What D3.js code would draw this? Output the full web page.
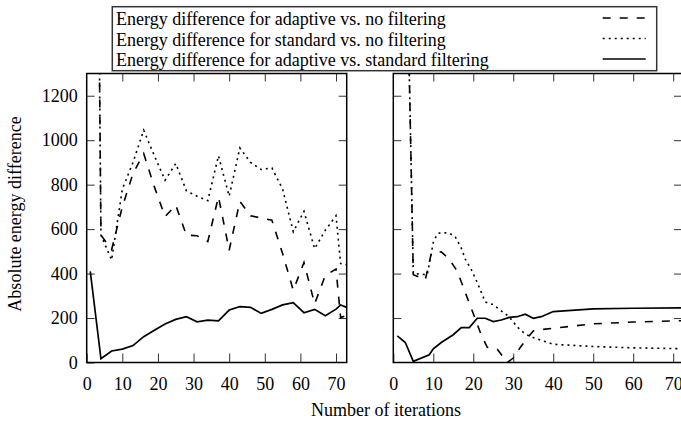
<!DOCTYPE html>
<html>
<head>
<meta charset="utf-8">
<script src="https://cdn.jsdelivr.net/npm/d3@7"></script>
<style>
  body { margin: 0; background: #fff; }
  svg { display: block; font-family: "Liberation Serif", "Times New Roman", serif; }
</style>
</head>
<body>
<div id="chart"></div>
<script>
/* Energy difference vs. number of iterations, two panels */

const width = 681, height = 425;

// legend labels
const seriesNames = [
    "Energy difference for adaptive vs. no filtering",
    "Energy difference for standard vs. no filtering",
    "Energy difference for adaptive vs. standard filtering"
];

const xTicks = [0, 10, 20, 30, 40, 50, 60, 70];
const yTicks = [0, 200, 400, 600, 800, 1000, 1200];

// left panel (same iterations for all three series)
const leftIter      = [1, 4, 7, 10, 13, 16, 19, 22, 25, 28, 31, 34, 37, 40, 43, 46, 49, 52, 55, 58, 61, 64, 67, 70, 71.3, 73];
const leftAdaptNo  = [6000, 573, 508, 700, 850, 940, 790, 656, 708, 573, 570, 544, 746, 505, 725, 660, 650, 640, 490, 325, 450, 264, 392, 420, 202, 212];
const leftStdNo    = [6000, 573, 461, 780, 900, 1045, 930, 820, 895, 772, 748, 728, 930, 748, 965, 900, 868, 875, 780, 588, 680, 512, 595, 660, 445, 440];
const leftAdaptStd = [410, 17, 52, 60, 76, 116, 145, 173, 194, 206, 183, 191, 187, 236, 251, 248, 221, 239, 259, 269, 224, 239, 210, 240, 259, 248];

// right panel
const rightAdaptNoIter  = [1, 5, 8, 9.5, 12, 14, 16, 18, 20, 22, 23.5, 26, 28.5, 30, 32, 35, 37, 40, 50, 60, 72];
const rightAdaptNo      = [4000, 395, 372, 490, 498, 465, 410, 315, 220, 124, 68, 60, 0, 20, 74, 142, 148, 154, 174, 182, 188];
const rightStdNoIter    = [1, 5, 8.5, 10, 11, 12, 14, 15.5, 17, 18, 19.5, 21, 23, 25, 27, 29, 31, 33, 35, 37, 40, 50, 60, 72];
const rightStdNo        = [4000, 400, 395, 540, 578, 585, 582, 565, 515, 465, 418, 360, 272, 260, 232, 205, 160, 128, 112, 100, 82, 72, 66, 62];
const rightAdaptStdIter = [1, 3, 5, 9, 10, 12, 15, 17, 19, 21, 23, 25, 27, 29, 31, 33, 35, 37, 40, 50, 60, 72];
const rightAdaptStd     = [120, 90, 5, 35, 62, 90, 125, 157, 157, 199, 199, 184, 191, 203, 206, 217, 199, 206, 229, 241, 244, 246];

const styles = [
    { dash: "8,9", width: 1.6 },     // adaptive vs none
    { dash: "2,4", width: 1.6 },     // standard vs none
    { dash: null, width: 1.7 }       // adaptive vs standard
];

const svg = d3.select("#chart")
    .append("svg")
    .attr("width", width)
    .attr("height", height);

let y = d3.scaleLinear()
    .domain([0, 1300])
    .range([362.5, 73.5]);

const panels = [
    {
        id: "left", x: d3.scaleLinear().domain([0, 73]).range([86.7, 346.7]), labels: true,
        series: [
            leftIter.map((d, i) => [d, leftAdaptNo[i]]),
            leftIter.map((d, i) => [d, leftStdNo[i]]),
            leftIter.map((d, i) => [d, leftAdaptStd[i]])
        ]
    },
    {
        id: "right", x: d3.scaleLinear().domain([0, 72.2]).range([393.3, 682]), labels: false,
        series: [
            rightAdaptNoIter.map((d, i) => [d, rightAdaptNo[i]]),
            rightStdNoIter.map((d, i) => [d, rightStdNo[i]]),
            rightAdaptStdIter.map((d, i) => [d, rightAdaptStd[i]])
        ]
    }
];

for (let p of panels) {
    let x = p.x;
    let [x0, x1] = x.range(), [y0, y1] = y.range();

    svg.append("clipPath")
        .attr("id", "clip-" + p.id)
      .append("rect")
        .attr("x", x0).attr("y", y1)
        .attr("width", x1 - x0).attr("height", y0 - y1);

    // inward ticks on all four sides
    svg.append("g")
        .attr("transform", `translate(0,${y0})`)
        .call(d3.axisBottom(x).tickValues(xTicks).tickSizeInner(-9).tickSizeOuter(0).tickPadding(15)
            .tickFormat(d3.format("d")));
    svg.append("g")
        .attr("transform", `translate(0,${y1})`)
        .call(d3.axisTop(x).tickValues(xTicks.slice(1)).tickSizeInner(-8).tickSizeOuter(0).tickFormat(""));
    svg.append("g")
        .attr("transform", `translate(${x0},0)`)
        .call(d3.axisLeft(y).tickValues(p.labels ? yTicks : yTicks.slice(1)).tickSizeInner(-8).tickSizeOuter(0).tickPadding(9)
            .tickFormat(p.labels ? d3.format("d") : ""));
    svg.append("g")
        .attr("transform", `translate(${x1},0)`)
        .call(d3.axisRight(y).tickValues(yTicks.slice(1)).tickSizeInner(-8).tickSizeOuter(0).tickFormat(""));

    let line = d3.line()
        .x(d => x(d[0]))
        .y(d => y(d[1]));

    p.series.forEach((s, i) => {
        svg.append("path")
            .datum(s)
            .attr("clip-path", `url(#clip-${p.id})`)
            .attr("d", line)
            .attr("fill", "none")
            .attr("stroke", "#000")
            .attr("stroke-width", styles[i].width)
            .attr("stroke-dasharray", styles[i].dash);
    });

    svg.append("rect")          // frame
        .attr("x", x0).attr("y", y1)
        .attr("width", x1 - x0).attr("height", y0 - y1)
        .attr("fill", "none")
        .attr("stroke", "#000")
        .attr("stroke-width", 1.5);
}

svg.selectAll(".domain").remove();
svg.selectAll(".tick line").attr("stroke", "#333").attr("stroke-width", 1);
svg.selectAll(".tick text")
    .attr("font-size", 18)
    .attr("font-family", "'Liberation Serif', 'Times New Roman', serif")
    .attr("fill", "#000");

// legend
const legend = svg.append("g");
legend.append("rect")
    .attr("x", 112.3).attr("y", 6.7)
    .attr("width", 544.4).attr("height", 64)
    .attr("fill", "#fff")
    .attr("stroke", "#333")
    .attr("stroke-width", 1.5);

seriesNames.forEach((name, i) => {
    let base = 25 + i * 20.5;
    legend.append("text")
        .attr("x", 116)
        .attr("y", base)
        .attr("font-size", 18)
        .text(name);
    legend.append("line")
        .attr("x1", 602.7).attr("x2", 645.7)
        .attr("y1", base - 7).attr("y2", base - 7)
        .attr("stroke", "#000")
        .attr("stroke-width", styles[i].width)
        .attr("stroke-dasharray", styles[i].dash);
});

svg.append("text")                  // x axis label
    .attr("x", 386)
    .attr("y", 416)
    .attr("text-anchor", "middle")
    .attr("font-size", 18)
    .text("Number of iterations");

svg.append("text")                  // y axis label
    .attr("transform", "translate(21,214) rotate(-90)")
    .attr("text-anchor", "middle")
    .attr("font-size", 18)
    .text("Absolute energy difference");
</script>
</body>
</html>
